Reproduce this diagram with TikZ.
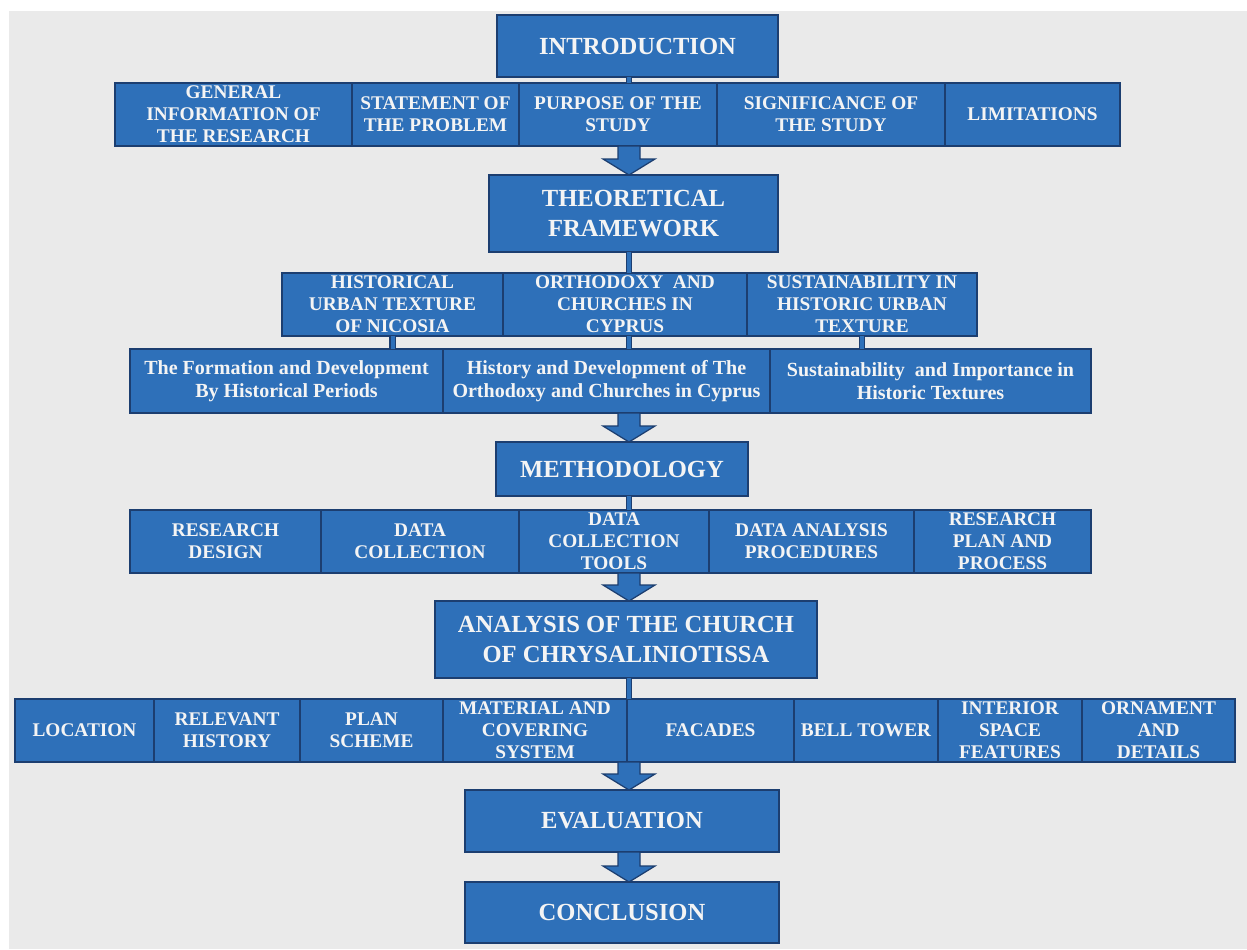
\documentclass[tikz,border=0pt]{standalone}
\usepackage{fontspec}
\setmainfont{Liberation Serif}
\usepackage{tikz}
\usepackage{xcolor}
\usetikzlibrary{calc, positioning}

\definecolor{boxblue}{RGB}{46,112,185}
\definecolor{boxline}{RGB}{28,62,112}
\definecolor{boxtext}{RGB}{244,244,244}
\definecolor{bggray}{RGB}{234,234,234}

% big down arrow between two points (from, to)
\newcommand{\flowarrow}[2]{%
  \draw[blockarrow] ($(#1)+(-2.2mm,0)$) -- ($(#2)+(-2.2mm,3.2mm)$)
    -- ($(#2)+(-5.2mm,3.2mm)$) -- (#2) -- ($(#2)+(5.2mm,3.2mm)$)
    -- ($(#2)+(2.2mm,3.2mm)$) -- ($(#1)+(2.2mm,0)$) -- cycle;}

\begin{document}
\begin{tikzpicture}[
  x=0.2mm, y=-0.2mm,
  big/.style={rectangle, draw=boxline, fill=boxblue, line width=0.4mm,
              text=boxtext, font=\fontsize{14}{17}\selectfont\bfseries,
              align=center, inner sep=0pt, outer sep=0pt},
  cell/.style={rectangle, draw=boxline, fill=boxblue, line width=0.4mm,
              text=boxtext, font=\fontsize{11}{12.6}\selectfont\bfseries,
              minimum height=12.6mm, align=center, inner sep=0pt, outer sep=0pt},
  sub/.style={cell, font=\fontsize{11.4}{13.4}\selectfont\bfseries, minimum height=12.8mm},
  link/.style={draw=boxline, line width=0.25mm, double=boxblue, double distance=0.8mm},
  blockarrow/.style={fill=boxblue, draw=boxline, line width=0.25mm, line join=miter}
]
\fill[white] (0,0) rectangle (1247,949);
\fill[bggray] (9,11) rectangle (1247,949);
\useasboundingbox (0,0) rectangle (1247,949);
\coordinate (spine) at (629,0);

\node[big, minimum width=56.2mm, minimum height=12.4mm] (intro) at (637.5,46) {INTRODUCTION};
\node[cell, minimum width=47.4mm, anchor=west] (gen) at (115,114.5) {GENERAL\\INFORMATION OF\\THE RESEARCH};
\node[cell, minimum width=33.4mm, right=0pt of gen] (stat) {STATEMENT OF\\THE PROBLEM};
\node[cell, minimum width=39.6mm, right=0pt of stat] (pur) {PURPOSE OF THE\\STUDY};
\node[cell, minimum width=45.6mm, right=0pt of pur] (sig) {SIGNIFICANCE OF\\THE STUDY};
\node[cell, minimum width=35mm, right=0pt of sig] (lim) {LIMITATIONS};

\node[big, minimum width=57.8mm, minimum height=15.4mm] (theory) at (633.5,213.5) {THEORETICAL\\FRAMEWORK};
\node[cell, minimum width=44.2mm, anchor=west] (hist) at (282,304.5) {HISTORICAL\\URBAN TEXTURE\\OF NICOSIA};
\node[cell, minimum width=48.8mm, right=0pt of hist] (orth) {ORTHODOXY~ AND\\CHURCHES IN\\CYPRUS};
\node[cell, minimum width=46mm, right=0pt of orth] (sust) {SUSTAINABILITY IN\\HISTORIC URBAN\\TEXTURE};
\node[sub, minimum width=62.6mm, anchor=west] (form) at (130,381) {The Formation and Development\\By Historical Periods};
\node[sub, minimum width=65.4mm, right=0pt of form] (hdev) {History and Development of The\\Orthodoxy and Churches in Cyprus};
\node[sub, minimum width=64.2mm, right=0pt of hdev] (simp) {Sustainability~ and Importance in\\Historic Textures};

\node[big, minimum width=50.4mm, minimum height=10.8mm] (meth) at (622,469) {METHODOLOGY};
\node[cell, minimum width=38.2mm, anchor=west] (rdes) at (130,541.5) {RESEARCH\\DESIGN};
\node[cell, minimum width=39.6mm, right=0pt of rdes] (dcol) {DATA\\COLLECTION};
\node[cell, minimum width=38mm, right=0pt of dcol] (dtool) {DATA\\COLLECTION\\TOOLS};
\node[cell, minimum width=41mm, right=0pt of dtool] (dana) {DATA ANALYSIS\\PROCEDURES};
\node[cell, minimum width=35.4mm, right=0pt of dana] (rplan) {RESEARCH\\PLAN AND\\PROCESS};

\node[big, minimum width=76.4mm, minimum height=15.4mm] (analysis) at (626,639.5) {ANALYSIS OF THE CHURCH\\OF CHRYSALINIOTISSA};
\node[cell, minimum width=27.8mm, anchor=west] (loc) at (15,730.5) {LOCATION};
\node[cell, minimum width=29.2mm, right=0pt of loc] (rel) {RELEVANT\\HISTORY};
\node[cell, minimum width=28.6mm, right=0pt of rel] (plan) {PLAN\\SCHEME};
\node[cell, minimum width=36.8mm, right=0pt of plan] (mat) {MATERIAL AND\\COVERING\\SYSTEM};
\node[cell, minimum width=33.4mm, right=0pt of mat] (fac) {FACADES};
\node[cell, minimum width=28.8mm, right=0pt of fac] (bell) {BELL TOWER};
\node[cell, minimum width=28.8mm, right=0pt of bell] (inter) {INTERIOR\\SPACE\\FEATURES};
\node[cell, minimum width=30.6mm, right=0pt of inter] (orn) {ORNAMENT\\AND\\DETAILS};

\node[big, minimum width=62.8mm, minimum height=12.4mm] (eval) at (622,821) {EVALUATION};
\node[big, minimum width=62.8mm, minimum height=12.2mm] (concl) at (622,912.5) {CONCLUSION};

\draw[link] (intro.south -| spine) -- (pur.north -| spine);
\draw[link] (theory.south -| spine) -- (orth.north -| spine);
\draw[link] (hist.south) -- (hist.south |- form.north);
\draw[link] (orth.south -| spine) -- (hdev.north -| spine);
\draw[link] (sust.south) -- (sust.south |- simp.north);
\draw[link] (meth.south -| spine) -- (dtool.north -| spine);
\draw[link] (analysis.south -| spine) -- (fac.north -| spine);

\flowarrow{pur.south -| spine}{theory.north -| spine}
\flowarrow{hdev.south -| spine}{meth.north -| spine}
\flowarrow{dtool.south -| spine}{analysis.north -| spine}
\flowarrow{mat.south -| spine}{eval.north -| spine}
\flowarrow{eval.south -| spine}{concl.north -| spine}
\end{tikzpicture}
\end{document}
